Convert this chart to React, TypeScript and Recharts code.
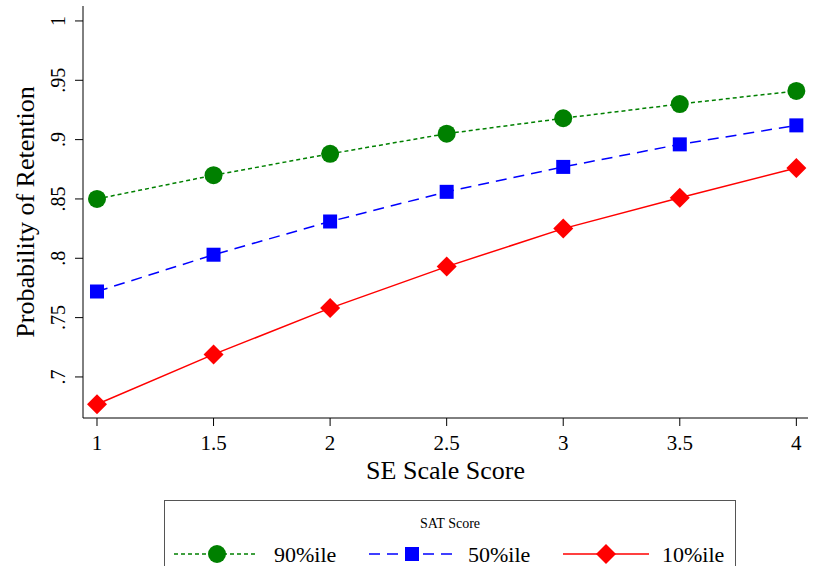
import React from "react";
import { LineChart, Line, XAxis, YAxis } from "recharts";

const seScores = [1, 1.5, 2, 2.5, 3, 3.5, 4];
const sat90 = [0.85, 0.87, 0.888, 0.905, 0.918, 0.93, 0.941];
const sat50 = [0.772, 0.803, 0.831, 0.856, 0.877, 0.896, 0.912];
const sat10 = [0.677, 0.719, 0.758, 0.793, 0.825, 0.851, 0.876];
const xTicks = [1, 1.5, 2, 2.5, 3, 3.5, 4];
const yTicks = [0.7, 0.75, 0.8, 0.85, 0.9, 0.95, 1];

const data = seScores.map((x, i) => ({ x, p90: sat90[i], p50: sat50[i], p10: sat10[i] }));

const FONT = '"Liberation Serif", "Times New Roman", serif';
const GREEN = "#008000";
const BLUE = "#0000ff";
const RED = "#ff0000";

const fmtY = (v: number) => (v === 1 ? "1" : String(+v.toFixed(2)).replace(/^0/, ""));

const YTick = (props: any) => {
  const { x, y, payload } = props;
  return (
    <text
      transform={`translate(${x},${y}) rotate(-90)`}
      textAnchor="middle"
      fontSize={20}
      fontFamily={FONT}
      fill="#000"
    >
      {fmtY(payload.value)}
    </text>
  );
};

const YTitle = (props: any) => {
  const vb = props.viewBox;
  const cy = vb.y + vb.height / 2;
  return (
    <text
      transform={`translate(34,${cy}) rotate(-90)`}
      textAnchor="middle"
      fontSize={26}
      fontFamily={FONT}
      fill="#000"
    >
      Probability of Retention
    </text>
  );
};

const Circle = (props: any) => {
  const { cx, cy, fill } = props;
  return <circle cx={cx} cy={cy} r={9} fill={fill} />;
};
const Square = (props: any) => {
  const { cx, cy, fill } = props;
  return <rect x={cx - 7} y={cy - 7} width={14} height={14} fill={fill} />;
};
const Diamond = (props: any) => {
  const { cx, cy, fill } = props;
  return <polygon points={`${cx},${cy - 10} ${cx + 10},${cy} ${cx},${cy + 10} ${cx - 10},${cy}`} fill={fill} />;
};

function LegendBox() {
  const row = 54;
  return (
    <svg width={572} height={80} style={{ position: "absolute", left: 164, top: 500 }}>
      <rect x={0.5} y={0.5} width={571} height={79} fill="#fff" stroke="#555" />
      <text x={286} y={28} textAnchor="middle" fontSize={14} fontFamily={FONT}>SAT Score</text>
      <line x1={10} x2={93} y1={row} y2={row} stroke={GREEN} strokeWidth={1.5} strokeDasharray="4 3" />
      <circle cx={53} cy={row} r={9} fill={GREEN} />
      <text x={110} y={row + 8} fontSize={22} fontFamily={FONT}>90%ile</text>
      <line x1={205} x2={291} y1={row} y2={row} stroke={BLUE} strokeWidth={1.5} strokeDasharray="11 7" />
      <rect x={241} y={row - 7} width={14} height={14} fill={BLUE} />
      <text x={304} y={row + 8} fontSize={22} fontFamily={FONT}>50%ile</text>
      <line x1={399} x2={485} y1={row} y2={row} stroke={RED} strokeWidth={1.5} />
      <polygon points={`442,${row - 10} 452,${row} 442,${row + 10} 432,${row}`} fill={RED} />
      <text x={498} y={row + 8} fontSize={22} fontFamily={FONT}>10%ile</text>
    </svg>
  );
}

export default function App() {
  return (
    <div style={{ position: "absolute", left: 0, top: 0, width: 814, height: 566, overflow: "hidden", background: "#fff" }}>
      <LineChart width={814} height={566} data={data} margin={{ top: 6, right: 6, left: 0, bottom: 78 }}>
        <XAxis
          dataKey="x"
          type="number"
          domain={[0.94, 4.05]}
          ticks={xTicks}
          allowDataOverflow
          height={70}
          stroke="#000"
          tickSize={8}
          tickMargin={9}
          tick={{ fontSize: 21, fontFamily: FONT, fill: "#000" }}
          label={{ value: "SE Scale Score", position: "insideTop", offset: 43, fontSize: 26, fontFamily: FONT, fill: "#000" }}
        />
        <XAxis xAxisId="top" orientation="top" dataKey="x" type="number" domain={[0.94, 4.05]} height={0} tick={false} tickLine={false} stroke="#000" />
        <YAxis
          type="number"
          domain={[0.6654, 1.0126]}
          ticks={yTicks}
          allowDataOverflow
          width={83}
          stroke="#000"
          tickSize={8}
          tickMargin={10}
          tick={<YTick />}
          label={<YTitle />}
        />
        <YAxis yAxisId="right" orientation="right" domain={[0.6654, 1.0126]} width={0} tick={false} tickLine={false} stroke="#000" />
        <Line dataKey="p90" stroke={GREEN} strokeWidth={1.5} strokeDasharray="4 3" fill={GREEN} dot={<Circle />} isAnimationActive={false} />
        <Line dataKey="p50" stroke={BLUE} strokeWidth={1.5} strokeDasharray="11 7" fill={BLUE} dot={<Square />} isAnimationActive={false} />
        <Line dataKey="p10" stroke={RED} strokeWidth={1.5} fill={RED} dot={<Diamond />} isAnimationActive={false} />
      </LineChart>
      <LegendBox />
    </div>
  );
}
